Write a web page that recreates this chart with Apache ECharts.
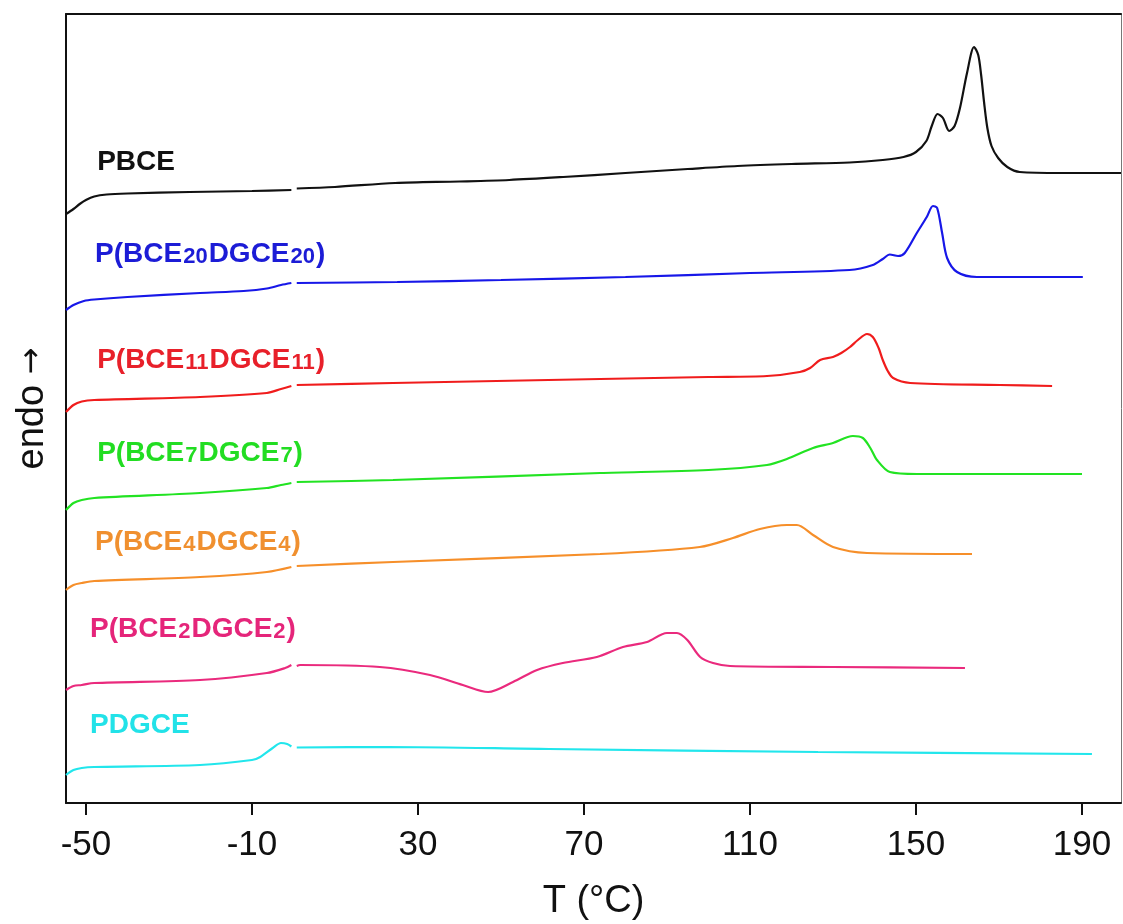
<!DOCTYPE html>
<html>
<head>
<meta charset="utf-8">
<title>DSC heating curves</title>
<script src="https://cdn.jsdelivr.net/npm/echarts@6/dist/echarts.min.js"></script>
<style>
  html, body { margin: 0; padding: 0; background: #fff; }
  #chart { width: 1123px; height: 924px; }
</style>
</head>
<body>
<div id="chart"></div>
<script>
// DSC heating scans, vertically offset (endo up). Each curve: [T (°C), heat flow (offset, a.u.)]
// A missing point near 0 °C marks the break in each trace.
const pbce = [
  [-54.8, 589], [-53, 594], [-51.5, 599], [-50, 603], [-48, 606.5], [-45, 608.5], [-40, 609.5],
  [-25, 611], [-10, 612], [-0.5, 613], [0, '-'], [0.8, 614.5], [10, 616], [24.5, 620],
  [40, 621.5], [52, 623], [65, 626], [80, 630], [95, 634], [107, 637], [120, 639],
  [134, 640.5], [142, 643], [147, 646], [150, 651], [152.5, 662], [153.8, 677], [155.2, 689],
  [156.5, 685], [158, 672], [159.3, 677], [160.6, 695], [162.3, 730], [164, 756], [165, 748],
  [165.7, 728], [166.4, 701], [167.2, 675], [168.2, 657], [169.8, 645], [172, 636],
  [175, 631], [185, 630], [199.4, 630]
];
const bce20 = [
  [-54.8, 493], [-53, 498], [-50.5, 502], [-48, 503.5], [-40, 506], [-22.5, 510], [-12, 512],
  [-6.4, 514.5], [-3, 518], [-0.5, 520], [0, '-'], [0.8, 520], [25, 521], [50, 523],
  [80, 526], [110, 530], [134, 533], [139.6, 538], [142, 544], [143.7, 548.5], [145.7, 547],
  [147.3, 550], [150.2, 570], [152.6, 586], [154.1, 597], [155.1, 595], [156.3, 570],
  [157.5, 545], [159.9, 531], [164.7, 526], [190.2, 526]
];
const bce11 = [
  [-54.8, 391], [-53, 398], [-51, 401.5], [-48, 403], [-22.5, 406], [-6.4, 410], [-3, 414],
  [-0.5, 417], [0, '-'], [0.8, 418], [24, 420], [73.9, 424], [100, 426], [114.1, 427],
  [122, 431], [124.5, 435], [126.9, 443], [130, 446], [132, 450], [134.1, 456], [136, 463],
  [138.2, 469], [139.6, 466], [141, 455], [142, 443], [143.2, 432], [144.5, 425],
  [148.6, 420], [170.2, 418], [182.8, 417]
];
const bce7 = [
  [-54.8, 293], [-53, 300], [-51, 303], [-48, 305], [-22.5, 310], [-6.4, 315], [-3, 318],
  [-0.5, 320], [0, '-'], [0.8, 321], [24, 323], [73.9, 330], [100, 333], [114.1, 338],
  [118.9, 344], [125.2, 355], [130, 360], [134.8, 367], [137.2, 365], [139, 355],
  [140.6, 343], [143.7, 331], [150.2, 329], [190, 329]
];
const bce4 = [
  [-54.8, 213], [-53, 218], [-51, 220], [-48, 222], [-22.5, 226], [-6.4, 231], [-0.5, 236],
  [0, '-'], [0.8, 237], [24, 241], [73.9, 249], [97.9, 256], [105.9, 265], [112.4, 274],
  [118.9, 278], [121.3, 278], [125.2, 268], [130, 256], [138.2, 250], [163.5, 249]
];
const bce2 = [
  [-54.8, 113], [-53, 117], [-51, 118], [-48, 120], [-22.5, 123], [-6.4, 130], [-2, 135],
  [-0.5, 138], [0, '-'], [0.8, 137], [1.6, 138], [20.8, 136], [32.9, 128], [40.8, 118],
  [46.9, 111], [52.9, 121], [58.7, 133], [64.9, 140], [73.1, 146], [79.4, 156], [85.2, 161],
  [90.0, 170], [92.4, 170], [94.9, 163], [98.0, 146], [101.1, 140], [105.2, 137],
  [130, 136], [161.8, 135]
];
const pdgce = [
  [-54.8, 28], [-53, 33], [-51, 35], [-48, 36], [-22.5, 38], [-10, 43], [-8, 46], [-5, 55],
  [-3, 60], [-1.5, 59], [-0.5, 56.5], [0, '-'], [0.8, 55.5], [22.8, 56], [61.6, 54],
  [126.4, 51], [192.4, 49]
];

const tempTicks = [-50, -10, 30, 70, 110, 150, 190];

// Curve names, split into text and subscript pieces
const curveNames = [
  ['PBCE'],
  ['P(BCE', '20', 'DGCE', '20', ')'],
  ['P(BCE', '11', 'DGCE', '11', ')'],
  ['P(BCE', '7', 'DGCE', '7', ')'],
  ['P(BCE', '4', 'DGCE', '4', ')'],
  ['P(BCE', '2', 'DGCE', '2', ')'],
  ['PDGCE']
];
const curves = [pbce, bce20, bce11, bce7, bce4, bce2, pdgce];

// Presentation settings
const lineColors = ['#111111', '#1717e8', '#f01c1c', '#22e322', '#f68f2a', '#ea2a7d', '#22e6ec'];
const textColors = ['#111111', '#1c1cd6', '#e8202a', '#22dd22', '#f0902f', '#e5257a', '#22e2e8'];
const labelAnchors = [[-47.3, 642], [-47.8, 550], [-47.3, 444], [-47.3, 351], [-47.8, 262], [-49, 175], [-49, 79]];

const FONT = '"Liberation Sans", Arial, sans-serif';

function labelFormatter(parts) {
  return parts.map((p, i) => (i % 2 === 0 ? '{m|' + p + '}' : '{s|' + p + '}')).join('');
}

const series = curves.map((data, i) => {
  const rich = {
    m: { fontSize: 28, fontWeight: 'bold', color: textColors[i], fontFamily: FONT, verticalAlign: 'bottom', lineHeight: 30 },
    s: { fontSize: 22, fontWeight: 'bold', color: textColors[i], fontFamily: FONT, verticalAlign: 'bottom', lineHeight: 30, padding: [0, 1, 0, 1] }
  };
  return {
    type: 'line',
    name: curveNames[i].join(''),
    data: data,
    showSymbol: false,
    smooth: 0.3,
    connectNulls: false,
    lineStyle: { color: lineColors[i], width: 2.2 },
    itemStyle: { color: lineColors[i] },
    animation: false,
    z: 3,
    markPoint: {
      symbol: 'circle',
      symbolSize: 1,
      itemStyle: { color: 'rgba(0,0,0,0)' },
      animation: false,
      data: [{
        coord: labelAnchors[i],
        label: {
          show: true,
          position: 'inside',
          align: 'left',
          verticalAlign: 'middle',
          formatter: labelFormatter(curveNames[i]),
          rich: rich
        }
      }]
    }
  };
});

const chart = echarts.init(document.getElementById('chart'), null, { renderer: 'canvas' });
chart.setOption({
  backgroundColor: '#ffffff',
  animation: false,
  grid: { left: 66, right: 2, top: 14, bottom: 121, containLabel: false, outerBoundsMode: 'none' },
  xAxis: [{
    type: 'value',
    min: -54.8,
    max: 199.4,
    position: 'bottom',
    name: 'T (°C)',
    nameLocation: 'middle',
    nameGap: 80,
    nameTextStyle: { fontSize: 38, color: '#111', fontFamily: FONT },
    axisLine: { show: true, onZero: false, lineStyle: { color: '#111', width: 2 } },
    axisTick: { show: true, inside: false, length: 12, customValues: tempTicks, lineStyle: { color: '#111', width: 2 } },
    axisLabel: { show: true, customValues: tempTicks, fontSize: 35, color: '#111', fontFamily: FONT, margin: 25 },
    splitLine: { show: false }
  }, {
    type: 'value',
    min: -54.8,
    max: 199.4,
    position: 'top',
    axisLine: { show: true, onZero: false, lineStyle: { color: '#111', width: 2 } },
    axisTick: { show: false },
    axisLabel: { show: false },
    splitLine: { show: false }
  }],
  yAxis: [{
    type: 'value',
    min: 0,
    max: 789,
    position: 'left',
    name: '{t|endo} {a|→}',
    nameLocation: 'middle',
    nameRotate: 90,
    nameGap: 14,
    nameTextStyle: {
      fontSize: 38, color: '#111', fontFamily: FONT,
      rich: {
        t: { fontSize: 38, color: '#111', fontFamily: FONT },
        a: { fontSize: 32, color: '#111', fontFamily: '"DejaVu Sans", sans-serif' }
      }
    },
    axisLine: { show: true, onZero: false, lineStyle: { color: '#111', width: 2 } },
    axisTick: { show: false },
    axisLabel: { show: false },
    splitLine: { show: false }
  }, {
    type: 'value',
    min: 0,
    max: 789,
    position: 'right',
    axisLine: { show: true, onZero: false, lineStyle: { color: '#777', width: 1 } },
    axisTick: { show: false },
    axisLabel: { show: false },
    splitLine: { show: false }
  }],
  series: series
});
</script>
</body>
</html>
